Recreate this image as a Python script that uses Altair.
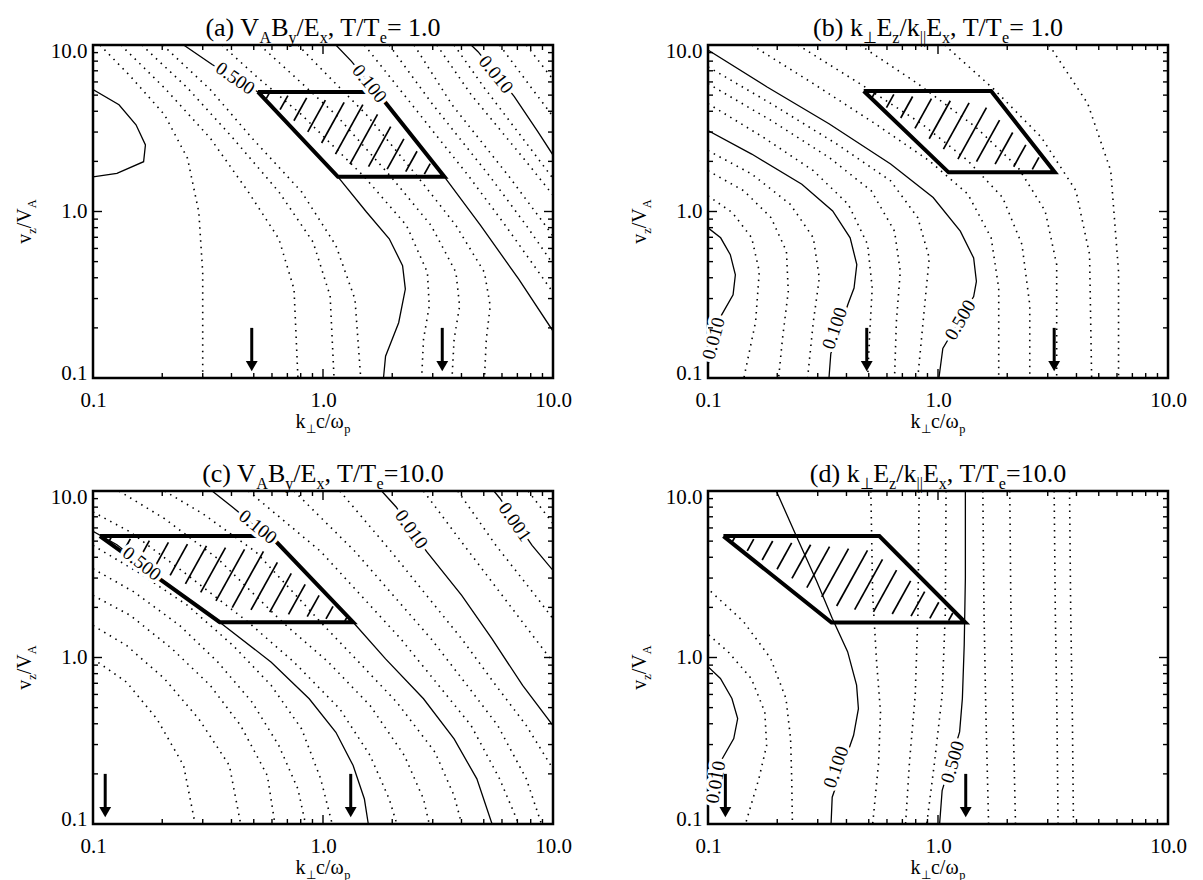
import math
import altair as alt
import pandas as pd

# ---------------- data (log10 k, log10 v) ----------------
TICK_LABELS = [0.1, 1.0, 10.0]
TICK_MINOR = [0.2, 0.3, 0.4, 0.5, 0.6, 0.7, 0.8, 0.9, 2, 3, 4, 5, 6, 7, 8, 9]
ARROW_V = [0.20, 0.11]  # arrow top, arrow tip (v/V_A)

# Panel (a)
A_LOOP = [(-1.0, 0.732), (-0.887, 0.641), (-0.813, 0.521), (-0.772, 0.400), (-0.780, 0.299), (-0.896, 0.229), (-1.0, 0.208)]
A_C500 = [(-0.606, 1.0), (-0.482, 0.883), (-0.283, 0.718), (0.065, 0.208), (0.189, -0.003), (0.288, -0.164), (0.346, -0.325), (0.358, -0.466), (0.329, -0.668), (0.272, -0.869), (0.263, -1.0)]
A_C100 = [(0.056, 1.0), (0.123, 0.903), (0.280, 0.641), (0.528, 0.208), (0.685, -0.084), (0.851, -0.406), (1.0, -0.718)]
A_C010 = [(0.644, 1.0), (0.674, 0.960), (0.831, 0.692), (0.934, 0.480), (1.0, 0.339)]
A_D1 = [(-0.970, 1.0), (-0.838, 0.813), (-0.689, 0.581), (-0.589, 0.319), (-0.540, -0.003), (-0.523, -0.366), (-0.523, -1.0)]
A_D2 = [(-0.879, 1.0), (-0.689, 0.742), (-0.490, 0.440), (-0.325, 0.118), (-0.192, -0.164), (-0.126, -0.466), (-0.109, -1.0)]
A_D3 = [(-0.788, 1.0), (-0.589, 0.742), (-0.391, 0.440), (-0.192, 0.118), (-0.043, -0.184), (0.031, -0.507), (0.048, -1.0)]
A_D4 = [(-0.697, 1.0), (-0.490, 0.732), (-0.308, 0.440), (-0.093, 0.118), (0.056, -0.204), (0.139, -0.527), (0.164, -1.0)]
A_M1 = [(-0.440, 1.0), (-0.291, 0.813), (-0.093, 0.581), (0.180, 0.208), (0.363, -0.084), (0.454, -0.366), (0.462, -0.567), (0.437, -0.768), (0.429, -1.0)]
A_M2 = [(-0.275, 1.0), (-0.126, 0.813), (0.056, 0.581), (0.296, 0.208), (0.470, -0.084), (0.578, -0.366), (0.594, -0.567), (0.570, -0.768), (0.561, -1.0)]
A_M3 = [(-0.109, 1.0), (0.023, 0.813), (0.189, 0.581), (0.412, 0.208), (0.578, -0.084), (0.702, -0.366), (0.727, -0.567), (0.710, -0.768), (0.702, -1.0)]
A_R1 = [(0.180, 1.0), (0.387, 0.641), (0.636, 0.208), (0.793, -0.084), (0.959, -0.406), (1.0, -0.486)]
A_R2 = [(0.288, 1.0), (0.478, 0.641), (0.727, 0.208), (0.884, -0.084), (1.0, -0.315)]
A_R3 = [(0.396, 1.0), (0.561, 0.641), (0.810, 0.208), (0.967, -0.084), (1.0, -0.148)]
A_R4 = [(0.495, 1.0), (0.644, 0.702), (0.884, 0.299), (1.0, 0.098)]
A_R5 = [(0.570, 1.0), (0.702, 0.742), (0.901, 0.380), (1.0, 0.198)]
A_E1 = [(0.768, 1.0), (0.901, 0.752), (1.0, 0.571)]
A_E2 = [(0.884, 1.0), (1.0, 0.793)]
A_LABEL_TEXT = ["0.500", "0.100", "0.010"]
A_LABEL_POS = [(-0.382, 0.800), (0.202, 0.768), (0.752, 0.823)]
A_LABEL_ANG = [35, 51, 51]
A_POLY = [(-0.283, 0.718), (0.235, 0.718), (0.528, 0.208), (0.065, 0.208)]
A_ARROW_K = [0.49, 3.3]

# Panel (b)
B_C500 = [(-1.0, 0.970), (-0.743, 0.748), (-0.474, 0.527), (-0.206, 0.285), (-0.021, 0.084), (0.097, -0.118), (0.155, -0.279), (0.167, -0.420), (0.155, -0.511), (0.021, -0.823), (0.004, -1.0)]
B_C100 = [(-1.0, 0.486), (-0.810, 0.345), (-0.592, 0.164), (-0.458, 0.003), (-0.382, -0.158), (-0.353, -0.319), (-0.365, -0.460), (-0.390, -0.551), (-0.466, -0.853), (-0.474, -1.0)]
B_C010 = [(-1.0, -0.098), (-0.945, -0.158), (-0.903, -0.259), (-0.881, -0.380), (-0.891, -0.500), (-0.945, -0.631), (-1.0, -0.923)]
B_P1 = [(-1.0, 0.869), (-0.726, 0.648), (-0.441, 0.406), (-0.206, 0.184), (-0.088, -0.037), (-0.038, -0.279), (-0.055, -0.521), (-0.088, -1.0)]
B_P2 = [(-1.0, 0.768), (-0.726, 0.547), (-0.474, 0.325), (-0.290, 0.124), (-0.189, -0.118), (-0.164, -0.360), (-0.181, -0.662), (-0.189, -1.0)]
B_P3 = [(-1.0, 0.648), (-0.760, 0.446), (-0.542, 0.245), (-0.390, 0.043), (-0.306, -0.198), (-0.286, -0.460), (-0.298, -0.762), (-0.306, -1.0)]
B_Q1 = [(-1.0, 0.366), (-0.810, 0.225), (-0.642, 0.043), (-0.542, -0.158), (-0.516, -0.400), (-0.542, -0.662), (-0.567, -1.0)]
B_Q2 = [(-1.0, 0.245), (-0.844, 0.124), (-0.726, -0.037), (-0.659, -0.239), (-0.651, -0.480), (-0.676, -0.762), (-0.693, -1.0)]
B_Q3 = [(-1.0, 0.094), (-0.894, -0.007), (-0.810, -0.158), (-0.777, -0.360), (-0.793, -0.662), (-0.844, -1.0)]
B_S1 = [(-0.810, 1.0), (-0.542, 0.768), (-0.273, 0.527), (-0.038, 0.305), (0.130, 0.104), (0.231, -0.158), (0.264, -0.460), (0.264, -1.0)]
B_S2 = [(-0.609, 1.0), (-0.340, 0.768), (-0.071, 0.527), (0.130, 0.305), (0.281, 0.084), (0.365, -0.198), (0.399, -0.561), (0.399, -1.0)]
B_S3 = [(-0.340, 1.0), (-0.088, 0.768), (0.164, 0.507), (0.348, 0.265), (0.466, 0.003), (0.516, -0.319), (0.516, -1.0)]
B_S4 = [(0.029, 1.0), (0.248, 0.728), (0.449, 0.446), (0.600, 0.124), (0.659, -0.259), (0.668, -1.0)]
B_S5 = [(0.483, 1.0), (0.651, 0.648), (0.751, 0.245), (0.785, -0.360), (0.785, -1.0)]
B_LABEL_TEXT = ["0.500", "0.100", "0.010"]
B_LABEL_POS = [(0.097, -0.652), (-0.449, -0.702), (-0.975, -0.762)]
B_LABEL_ANG = [300, 289, 285]
B_POLY = [(-0.323, 0.724), (0.231, 0.724), (0.508, 0.235), (0.046, 0.235)]
B_ARROW_K = [0.49, 3.2]

# Panel (c)
C_C500 = [(-1.0, 0.758), (-0.896, 0.677), (-0.689, 0.453), (-0.449, 0.212), (-0.225, -0.028), (-0.060, -0.248), (0.056, -0.449), (0.131, -0.649), (0.180, -0.850), (0.197, -1.0)]
C_C100 = [(-0.482, 1.0), (-0.394, 0.904), (-0.192, 0.673), (0.131, 0.212), (0.272, -0.008), (0.437, -0.248), (0.570, -0.489), (0.669, -0.729), (0.735, -1.0)]
C_C010 = [(0.255, 1.0), (0.318, 0.904), (0.450, 0.637), (0.603, 0.373), (0.735, 0.112), (0.868, -0.168), (1.0, -0.409)]
C_C001 = [(0.743, 1.0), (0.768, 0.958), (0.909, 0.673), (1.0, 0.523)]
C_L1 = [(-1.0, 0.673), (-0.805, 0.513), (-0.589, 0.313), (-0.391, 0.072), (-0.225, -0.168), (-0.093, -0.429), (-0.010, -0.729), (0.040, -1.0)]
C_L2 = [(-1.0, 0.533), (-0.821, 0.393), (-0.623, 0.192), (-0.457, -0.028), (-0.308, -0.269), (-0.192, -0.529), (-0.109, -0.790), (-0.076, -1.0)]
C_L3 = [(-1.0, 0.373), (-0.838, 0.253), (-0.656, 0.052), (-0.490, -0.168), (-0.358, -0.409), (-0.242, -0.709), (-0.209, -1.0)]
C_L4 = [(-1.0, 0.192), (-0.854, 0.072), (-0.689, -0.128), (-0.540, -0.369), (-0.407, -0.649), (-0.358, -1.0)]
C_L5 = [(-1.0, -0.008), (-0.854, -0.148), (-0.722, -0.369), (-0.606, -0.649), (-0.556, -1.0)]
C_M1 = [(-1.0, 0.874), (-0.838, 0.754), (-0.606, 0.513), (-0.325, 0.212), (-0.126, -0.028), (0.073, -0.309), (0.205, -0.589), (0.288, -0.850), (0.321, -1.0)]
C_M2 = [(-0.887, 1.0), (-0.689, 0.834), (-0.457, 0.593), (-0.176, 0.212), (0.023, -0.028), (0.205, -0.289), (0.354, -0.589), (0.437, -0.850), (0.462, -1.0)]
C_M3 = [(-0.689, 1.0), (-0.523, 0.864), (-0.291, 0.633), (-0.010, 0.212), (0.156, -0.028), (0.321, -0.269), (0.487, -0.569), (0.570, -0.830), (0.603, -1.0)]
C_R1 = [(-0.325, 1.0), (-0.010, 0.637), (0.338, 0.112), (0.503, -0.168), (0.644, -0.409), (0.768, -0.729), (0.851, -1.0)]
C_R2 = [(-0.126, 1.0), (0.139, 0.637), (0.470, 0.112), (0.627, -0.168), (0.760, -0.409), (0.884, -0.729), (0.950, -1.0)]
C_R3 = [(0.073, 1.0), (0.296, 0.637), (0.603, 0.112), (0.752, -0.168), (0.884, -0.409), (1.0, -0.669)]
C_S1 = [(0.437, 1.0), (0.603, 0.693), (0.801, 0.333), (1.0, -0.028)]
C_S2 = [(0.586, 1.0), (0.752, 0.673), (0.934, 0.353), (1.0, 0.232)]
C_T1 = [(0.892, 1.0), (1.0, 0.804)]
C_LABEL_TEXT = ["0.500", "0.100", "0.010", "0.001"]
C_LABEL_POS = [(-0.788, 0.563), (-0.283, 0.784), (0.384, 0.770), (0.834, 0.814)]
C_LABEL_ANG = [38, 39, 55, 55]
C_POLY = [(-0.970, 0.729), (-0.227, 0.729), (0.131, 0.212), (-0.449, 0.212)]
C_ARROW_K = [0.113, 1.32]

# Panel (d)
D_C100 = [(-0.703, 1.0), (-0.619, 0.739), (-0.527, 0.457), (-0.460, 0.236), (-0.393, 0.035), (-0.354, -0.166), (-0.346, -0.307), (-0.367, -0.467), (-0.460, -0.839), (-0.465, -1.0)]
D_C500 = [(0.119, 1.0), (0.119, 0.477), (0.114, 0.075), (0.106, -0.246), (0.094, -0.447), (0.018, -0.799), (0.007, -1.0)]
D_C010 = [(-1.0, -0.055), (-0.946, -0.126), (-0.896, -0.246), (-0.871, -0.367), (-0.888, -0.487), (-0.938, -0.608), (-1.0, -0.870)]
D_L1 = [(-0.988, 0.397), (-0.846, 0.216), (-0.728, -0.005), (-0.661, -0.246), (-0.641, -0.487), (-0.636, -0.729), (-0.633, -1.0)]
D_L2 = [(-0.997, 0.136), (-0.913, 0.035), (-0.812, -0.126), (-0.753, -0.327), (-0.745, -0.528), (-0.779, -0.729), (-0.837, -1.0)]
D_M1 = [(-0.292, 1.0), (-0.284, 0.377), (-0.267, -0.025), (-0.250, -0.327), (-0.258, -0.628), (-0.284, -1.0)]
D_M2 = [(-0.082, 1.0), (-0.087, 0.276), (-0.099, -0.226), (-0.124, -0.628), (-0.141, -1.0)]
D_M3 = [(0.035, 1.0), (0.032, 0.276), (0.018, -0.226), (-0.015, -0.628), (-0.049, -1.0)]
D_R1 = [(0.195, 1.0), (0.200, 0.276), (0.208, -0.327), (0.220, -1.0)]
D_R2 = [(0.312, 1.0), (0.317, 0.276), (0.326, -0.327), (0.337, -1.0)]
D_R3 = [(0.505, 1.0), (0.510, 0.276), (0.517, -0.327), (0.522, -1.0)]
D_R4 = [(0.572, 1.0), (0.577, 0.276), (0.584, -0.327), (0.589, -1.0)]
D_LABEL_TEXT = ["0.100", "0.500", "0.010"]
D_LABEL_POS = [(-0.443, -0.658), (0.064, -0.628), (-0.966, -0.749)]
D_LABEL_ANG = [289, 286, 280]
D_POLY = [(-0.933, 0.729), (-0.255, 0.729), (0.119, 0.210), (-0.463, 0.210)]
D_ARROW_K = [0.119, 1.32]

TITLE_A = [("(a) V", 0), ("A", 1), ("B", 0), ("y", 1), ("/E", 0), ("x", 1), (", T/T", 0), ("e", 1), ("= 1.0", 0)]
TITLE_B = [("(b) k", 0), ("⊥", 1), ("E", 0), ("z", 1), ("/k", 0), ("||", 1), ("E", 0), ("x", 1), (", T/T", 0), ("e", 1), ("= 1.0", 0)]
TITLE_C = [("(c) V", 0), ("A", 1), ("B", 0), ("y", 1), ("/E", 0), ("x", 1), (", T/T", 0), ("e", 1), ("=10.0", 0)]
TITLE_D = [("(d) k", 0), ("⊥", 1), ("E", 0), ("z", 1), ("/k", 0), ("||", 1), ("E", 0), ("x", 1), (", T/T", 0), ("e", 1), ("=10.0", 0)]
XTITLE = [("k", 0), ("⊥", 1), ("c/ω", 0), ("p", 1)]
YTITLE = [("v", 0), ("z", 1), ("/V", 0), ("A", 1)]

# ---------------- layout / style ----------------
W, H = 460, 333
FONT = "Liberation Serif"
XS = alt.Scale(type="log", domain=[0.1, 10], nice=False)
YS = alt.Scale(type="log", domain=[0.1, 10], nice=False)
XAXIS = alt.Axis(values=TICK_LABELS, format=".1f", labelFont=FONT, labelFontSize=21, labelColor="black",
                 ticks=False, tickSize=0, domain=False, grid=False, labelPadding=11, labelFlush=False, title=None)
YAXIS = alt.Axis(values=TICK_LABELS, format=".1f", labelFont=FONT, labelFontSize=21, labelColor="black",
                 ticks=False, tickSize=0, domain=False, grid=False, labelPadding=6, labelFlush=True,
                 labelFlushOffset=5, title=None)
ONE = alt.Data(values=[{"_": 0}])
CW = {" ": .25, "(": .333, ")": .333, "a": .444, "b": .5, "c": .444, "d": .5, "e": .444, "k": .5, "p": .5,
      "v": .5, "x": .5, "y": .5, "z": .444, "A": .722, "B": .667, "E": .611, "T": .611, "V": .722, "/": .278,
      ",": .25, "=": .564, ".": .25, "ω": .69, "⊥": .84, "|": .2}


def X(f):
    return alt.X(f"{f}:Q", scale=XS, axis=XAXIS)


def Y(f):
    return alt.Y(f"{f}:Q", scale=YS, axis=YAXIS)


def lines_df(lines):
    rows = []
    for i, pts in enumerate(lines):
        for j, (lk, lv) in enumerate(pts):
            rows.append({"id": i, "o": j, "k": 10 ** lk, "v": 10 ** lv})
    return pd.DataFrame(rows)


def hatch_df(poly, ang=61.0, step=20.0, trim=0.17):
    P = [((lk + 1) / 2 * W, (1 - lv) / 2 * H) for lk, lv in poly]
    t = math.radians(ang)
    d = (math.cos(t), -math.sin(t))
    nv = (math.sin(t), math.cos(t))
    proj = [nv[0] * x + nv[1] * y for x, y in P]
    s = step * math.sin(t)
    rows = []
    c = min(proj) + s * 0.6
    while c < max(proj):
        hits = []
        for i in range(len(P)):
            (x1, y1), (x2, y2) = P[i], P[(i + 1) % len(P)]
            c1, c2 = proj[i], proj[(i + 1) % len(P)]
            if (c1 - c) * (c2 - c) < 0:
                u = (c - c1) / (c2 - c1)
                hits.append((x1 + u * (x2 - x1), y1 + u * (y2 - y1)))
        if len(hits) >= 2:
            hits.sort(key=lambda p: p[0] * d[0] + p[1] * d[1])
            (xa, ya), (xb, yb) = hits[0], hits[-1]
            xa, ya, xb, yb = xa + trim * (xb - xa), ya + trim * (yb - ya), xb - trim * (xb - xa), yb - trim * (yb - ya)
            rows.append({"k1": 10 ** (2 * xa / W - 1), "v1": 10 ** (1 - 2 * ya / H),
                         "k2": 10 ** (2 * xb / W - 1), "v2": 10 ** (1 - 2 * yb / H)})
        c += s
    return pd.DataFrame(rows)


def text_layers(parts, ax, ay, size, vertical=False):
    sizes = [size * 0.62 if sub else size for _, sub in parts]
    widths = [sum(CW.get(ch, 0.5) for ch in t) * fs for (t, _), fs in zip(parts, sizes)]
    pos = -sum(widths) / 2
    out = []
    for (t, sub), fs, w in zip(parts, sizes, widths):
        drop = 0.25 * size if sub else 0
        if vertical:
            x, y, a = ax + drop, ay - pos, 270
        else:
            x, y, a = ax + pos, ay + drop, 0
        out.append(alt.Chart(ONE).mark_text(text=t, font=FONT, fontSize=fs, align="left", baseline="alphabetic",
                                            angle=a, color="black").encode(x=alt.value(x), y=alt.value(y)))
        pos += w
    return out


def tick_layers():
    out = []
    for vals, L in ((TICK_LABELS, 9), (TICK_MINOR, 5)):
        base = alt.Chart(pd.DataFrame({"t": vals})).mark_rule(color="black", strokeWidth=1.4)
        out += [
            base.encode(x=X("t"), y=alt.value(H), y2=alt.value(H - L)),
            base.encode(x=X("t"), y=alt.value(0), y2=alt.value(L)),
            base.encode(y=Y("t"), x=alt.value(0), x2=alt.value(L)),
            base.encode(y=Y("t"), x=alt.value(W), x2=alt.value(W - L)),
        ]
    return out


def panel(title, solid, dotted, ltext, lpos, lang, poly, arrow_k):
    layers = []
    layers.append(alt.Chart(lines_df(solid)).mark_line(color="black", strokeWidth=1.3, clip=True)
                  .encode(x=X("k"), y=Y("v"), detail="id:N", order="o:Q"))
    layers.append(alt.Chart(lines_df(dotted)).mark_line(color="black", strokeWidth=1.6, strokeDash=[1.5, 5], clip=True)
                  .encode(x=X("k"), y=Y("v"), detail="id:N", order="o:Q"))
    layers.append(alt.Chart(hatch_df(poly)).mark_rule(color="black", strokeWidth=1.7)
                  .encode(x=X("k1"), x2="k2:Q", y=Y("v1"), y2="v2:Q"))
    layers.append(alt.Chart(lines_df([poly + [poly[0]]])).mark_line(color="black", strokeWidth=4, strokeJoin="miter")
                  .encode(x=X("k"), y=Y("v"), detail="id:N", order="o:Q"))
    lab = pd.DataFrame({"text": ltext, "k": [10 ** p[0] for p in lpos], "v": [10 ** p[1] for p in lpos], "ang": lang})
    enc = dict(x=X("k"), y=Y("v"), text="text:N", angle=alt.Angle("ang:Q", scale=None))
    layers.append(alt.Chart(lab).mark_text(font=FONT, fontSize=19, fill="white", stroke="white", strokeWidth=7,
                                           align="center", baseline="middle").encode(**enc))
    layers.append(alt.Chart(lab).mark_text(font=FONT, fontSize=19, fill="black", align="center", baseline="middle")
                  .encode(**enc))
    arr = pd.DataFrame({"k": arrow_k, "v1": [ARROW_V[0]] * len(arrow_k), "v2": [ARROW_V[1]] * len(arrow_k)})
    layers.append(alt.Chart(arr).mark_rule(color="black", strokeWidth=3, y2Offset=-6)
                  .encode(x=X("k"), y=Y("v1"), y2="v2:Q"))
    layers.append(alt.Chart(arr).mark_point(shape="triangle-down", filled=True, size=140, color="black", opacity=1, yOffset=-5)
                  .encode(x=X("k"), y=Y("v2")))
    layers += tick_layers()
    layers += text_layers(title, W / 2, -9, 26)
    layers += text_layers(XTITLE, W / 2, H + 50, 20)
    layers += text_layers(YTITLE, -62, H / 2 + 10, 20, vertical=True)
    return alt.layer(*layers).properties(width=W, height=H)


pa = panel(TITLE_A, [A_LOOP, A_C500, A_C100, A_C010],
           [A_D1, A_D2, A_D3, A_D4, A_M1, A_M2, A_M3, A_R1, A_R2, A_R3, A_R4, A_R5, A_E1, A_E2],
           A_LABEL_TEXT, A_LABEL_POS, A_LABEL_ANG, A_POLY, A_ARROW_K)
pb = panel(TITLE_B, [B_C500, B_C100, B_C010],
           [B_P1, B_P2, B_P3, B_Q1, B_Q2, B_Q3, B_S1, B_S2, B_S3, B_S4, B_S5],
           B_LABEL_TEXT, B_LABEL_POS, B_LABEL_ANG, B_POLY, B_ARROW_K)
pc = panel(TITLE_C, [C_C500, C_C100, C_C010, C_C001],
           [C_L1, C_L2, C_L3, C_L4, C_L5, C_M1, C_M2, C_M3, C_R1, C_R2, C_R3, C_S1, C_S2, C_T1],
           C_LABEL_TEXT, C_LABEL_POS, C_LABEL_ANG, C_POLY, C_ARROW_K)
pd_ = panel(TITLE_D, [D_C100, D_C500, D_C010],
            [D_L1, D_L2, D_M1, D_M2, D_M3, D_R1, D_R2, D_R3, D_R4],
            D_LABEL_TEXT, D_LABEL_POS, D_LABEL_ANG, D_POLY, D_ARROW_K)

chart = alt.concat(pa, pb, pc, pd_, columns=2, spacing={"row": 113, "column": 155}, bounds="flush").properties(
    background="white", padding={"left": 5, "top": 5, "right": 5, "bottom": 5}
).configure_view(stroke="black", strokeWidth=2.5)

chart.save("out.html", embed_options={"renderer": "svg", "actions": False})
